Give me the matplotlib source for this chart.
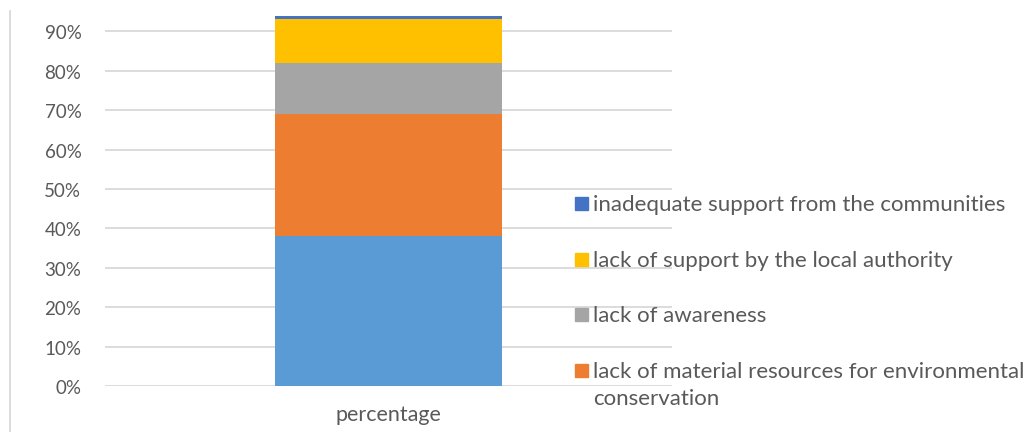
import matplotlib.pyplot as plt
from matplotlib.lines import Line2D
from matplotlib.patches import Rectangle
from matplotlib.ticker import PercentFormatter

plt.rcParams['font.family'] = ['Lato', 'DejaVu Sans']

W, H = 1032, 439

category = ["percentage"]
series = [
    "other",
    "lack of material resources for environmental\nconservation",
    "lack of awareness",
    "lack of support by the local authority",
    "inadequate support from the communities",
]
values = [0.38, 0.31, 0.13, 0.11, 0.01]
colors = ["#5B9BD5", "#ED7D31", "#A5A5A5", "#FFC000", "#4472C4"]
yticks = [0, 0.1, 0.2, 0.3, 0.4, 0.5, 0.6, 0.7, 0.8, 0.9]

fig = plt.figure(figsize=(W / 100, H / 100), dpi=100)
ax = fig.add_axes([105 / W, 1 - 387 / H, 567 / W, 387 / H])

bottom = 0
for name, v, c in zip(series, values, colors):
    ax.bar(0, v, width=0.5, bottom=bottom, color=c, label=name, zorder=3)
    bottom += v

ax.set_xlim(-0.622, 0.622)
ax.set_ylim(0, 0.982)
ax.set_yticks(yticks)
ax.yaxis.set_major_formatter(PercentFormatter(1.0, decimals=0))
ax.set_xticks([0])
ax.set_xticklabels(category)
ax.grid(axis='y', color='#D9D9D9', linewidth=1.3, zorder=0)
for s in ax.spines.values():
    s.set_visible(False)
ax.tick_params(axis='y', length=0, pad=17, labelsize=13.5, labelcolor='#595959')
ax.tick_params(axis='x', length=0, pad=13, labelsize=15.5, labelcolor='#595959')

# legend: upper four segments, top one first; swatch sits on the first text line
rows_y = [205, 261, 316, 372]
for y, i in zip(rows_y, (4, 3, 2, 1)):
    fig.add_artist(Rectangle((575 / W, 1 - (y + 6) / H), 13 / W, 13 / H,
                             color=colors[i], transform=fig.transFigure))
    fig.text(593 / W, 1 - (y - 10) / H, series[i], fontsize=16, color='#595959',
             va='top', ha='left', linespacing=1.45,
             transform=fig.transFigure)

# thin border fragment on the left edge
fig.add_artist(Line2D([10 / W, 10 / W], [1 - 432 / H, 1 - 12 / H],
                      color='#D9D9D9', linewidth=1.3))

fig.savefig("out.png", dpi=100)
